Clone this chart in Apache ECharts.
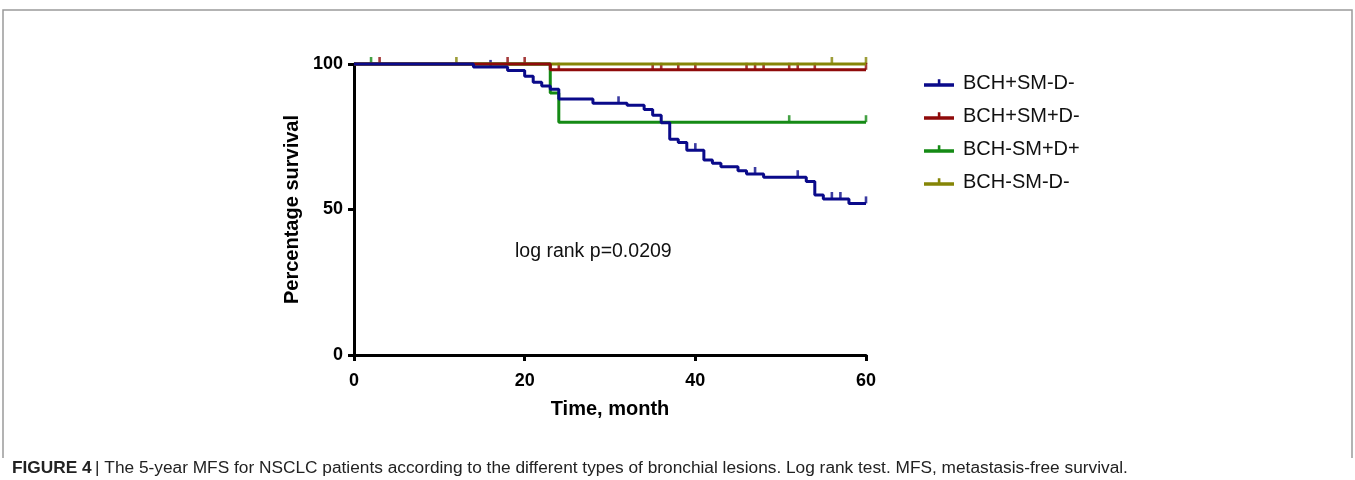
<!DOCTYPE html>
<html>
<head>
<meta charset="utf-8">
<script src="https://cdn.jsdelivr.net/npm/echarts@6/dist/echarts.min.js"></script>
<style>html,body{margin:0;padding:0;background:#fff;}#c{width:1355px;height:480px;}</style>
</head>
<body>
<div id="c"></div>
<script>
// Kaplan-Meier step points [month, % survival]
var blueSteps = [[0,100],[14,99],[18,97.8],[20,95.8],[21,93.7],[22,92.4],[23,91.3],[24,88],[28,86.5],[32,85.8],[34,84.4],[35,82.4],[36,79.8],[37,74.1],[38,73],[39,70.4],[41,67],[42,65.9],[43,64.7],[45,63.3],[46,62.2],[48,61.1],[53,59.6],[54,55],[55,53.6],[58,52.1],[60,52.1]];
var redSteps = [[0,100],[23,98],[60,98]];
var greenSteps = [[0,100],[23,90],[24,80],[60,80]];
var oliveSteps = [[0,100],[60,100]];
// censored observations [month, % survival]
var blueCensor = [[16,99],[31,86.5],[40,70.4],[47,62.2],[52,61.1],[56,53.6],[57,53.6],[60,52.1]];
var redCensor = [[3,100],[18,100],[20,100],[24,98],[35,98],[36,98],[38,98],[40,98],[46,98],[47,98],[48,98],[51,98],[52,98],[54,98],[60,98]];
var greenCensor = [[2,100],[51,80],[60,80]];
var oliveCensor = [[12,100],[56,100],[60,100]];
var groupNames = ['BCH+SM-D-','BCH+SM+D-','BCH-SM+D+','BCH-SM-D-'];
var xTicks = [0,20,40,60];
var yTicks = [0,50,100];

var colors = {blue:'#0a0a8a', red:'#8f0a0a', green:'#158a15', olive:'#858506'};
var fontFam = 'Liberation Sans, Arial, sans-serif';
var legendIcon = 'path://M0,5 L30,5 L30,8.5 L0,8.5 Z M13.8,1 L16.4,1 L16.4,5 L13.8,5 Z';

function lineSeries(name, data, color){
  return {name:name, type:'line', step:'end', data:data, showSymbol:false, clip:false,
    lineStyle:{color:color, width:3}, itemStyle:{color:color}, symbol:'none', animation:false};
}
function censorSeries(name, data, color){
  return {name:name+' censor', type:'scatter', data:data, clip:false,
    symbol:'rect', symbolSize:[2.6,7], symbolOffset:[0,-3.5],
    itemStyle:{color:color}, animation:false, silent:true};
}

var chart = echarts.init(document.getElementById('c'));
chart.setOption({
  backgroundColor:'#fff',
  animation:false,
  grid:{left:354, right:489, top:64, bottom:125, containLabel:false},
  legend:{
    data:groupNames.map(function(n){return {name:n, icon:legendIcon};}),
    orient:'vertical', left:919, top:68, itemWidth:30, itemHeight:9, itemGap:13,
    textStyle:{fontFamily:fontFam, fontSize:20, color:'#111', padding:[0,0,0,4]},
    selectedMode:false
  },
  xAxis:{
    type:'value', min:0, max:60, interval:20,
    name:'Time, month', nameLocation:'middle', nameGap:44,
    nameTextStyle:{fontFamily:fontFam, fontSize:20, fontWeight:'bold', color:'#000'},
    axisLine:{show:true, onZero:false, lineStyle:{color:'#000', width:3}},
    axisTick:{show:true, length:6, lineStyle:{color:'#000', width:3}},
    axisLabel:{fontFamily:fontFam, fontSize:18, fontWeight:'bold', color:'#000', margin:17,
      formatter:function(v){return xTicks.indexOf(v)>=0 ? String(v) : '';}},
    splitLine:{show:false}
  },
  yAxis:{
    type:'value', min:0, max:100, interval:50,
    name:'Percentage survival', nameLocation:'middle', nameGap:52, nameRotate:90,
    nameTextStyle:{fontFamily:fontFam, fontSize:20, fontWeight:'bold', color:'#000'},
    axisLine:{show:true, onZero:false, lineStyle:{color:'#000', width:3}},
    axisTick:{show:true, length:6, lineStyle:{color:'#000', width:3}},
    axisLabel:{fontFamily:fontFam, fontSize:18, fontWeight:'bold', color:'#000', margin:11,
      formatter:function(v){return yTicks.indexOf(v)>=0 ? String(v) : '';}},
    splitLine:{show:false}
  },
  graphic:[
    {type:'polyline', shape:{points:[[3,458],[3,10],[1352,10],[1352,458]]},
      style:{stroke:'#9a9a9a', lineWidth:1.5, fill:null}},
    {type:'text', left:515, top:242, style:{text:'log rank p=0.0209', font:'19.5px '+fontFam, fill:'#111'}},
    {type:'text', left:12, top:460, style:{
      text:'{b|FIGURE 4} {r|| The 5-year MFS for NSCLC patients according to the different types of bronchial lesions. Log rank test. MFS, metastasis-free survival.}',
      rich:{b:{font:'bold 17.3px '+fontFam, fill:'#222'}, r:{font:'17.3px '+fontFam, fill:'#222'}}
    }}
  ],
  series:[
    lineSeries(groupNames[3], oliveSteps, colors.olive),
    censorSeries(groupNames[3], oliveCensor, colors.olive),
    lineSeries(groupNames[2], greenSteps, colors.green),
    censorSeries(groupNames[2], greenCensor, colors.green),
    lineSeries(groupNames[1], redSteps, colors.red),
    censorSeries(groupNames[1], redCensor, colors.red),
    lineSeries(groupNames[0], blueSteps, colors.blue),
    censorSeries(groupNames[0], blueCensor, colors.blue)
  ]
});
</script>
</body>
</html>
